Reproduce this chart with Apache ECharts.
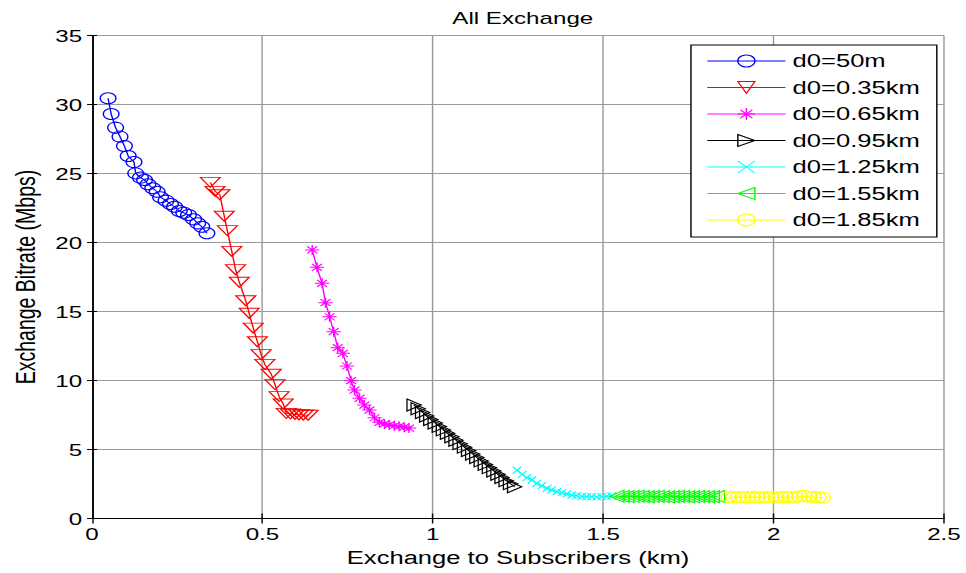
<!DOCTYPE html>
<html>
<head>
<meta charset="utf-8">
<script src="https://cdn.jsdelivr.net/npm/echarts@6/dist/echarts.min.js"></script>
<style>
html,body{margin:0;padding:0;background:#fff;overflow:hidden;}
#wrap{width:966px;height:573px;overflow:hidden;position:relative;}
#chart{width:680px;height:573px;transform:scaleX(1.420588);transform-origin:0 0;}
</style>
</head>
<body>
<div id="wrap"><div id="chart"></div></div>
<script>
// ---- data ----
const titleText = 'All Exchange';
const xAxisName = 'Exchange to Subscribers (km)';
const yAxisName = 'Exchange Bitrate (Mbps)';
const xTicks = [0, 0.5, 1, 1.5, 2, 2.5];
const yTicks = [0, 5, 10, 15, 20, 25, 30, 35];
const seriesNames = ['d0=50m', 'd0=0.35km', 'd0=0.65km', 'd0=0.95km', 'd0=1.25km', 'd0=1.55km', 'd0=1.85km'];

const blueX = [0.047, 0.056, 0.069, 0.082, 0.095, 0.106, 0.123, 0.128, 0.142, 0.154, 0.164, 0.178, 0.191, 0.201, 0.217, 0.230, 0.242, 0.256, 0.269, 0.283, 0.298, 0.310, 0.322, 0.337];
const blueY = [30.45, 29.31, 28.32, 27.67, 26.99, 26.27, 25.83, 25.01, 24.70, 24.53, 24.22, 23.93, 23.68, 23.28, 23.03, 22.79, 22.59, 22.28, 22.16, 21.99, 21.68, 21.39, 21.14, 20.67];

const redX = [0.347, 0.361, 0.375, 0.388, 0.397, 0.410, 0.421, 0.432, 0.451, 0.461, 0.473, 0.485, 0.496, 0.507, 0.526, 0.537, 0.549, 0.561, 0.570, 0.582, 0.595, 0.607, 0.620, 0.634];
const redY = [24.36, 23.71, 23.46, 21.90, 20.86, 19.36, 18.03, 17.12, 15.78, 14.87, 13.80, 12.81, 11.87, 11.17, 10.45, 9.70, 8.83, 8.30, 7.62, 7.58, 7.55, 7.52, 7.50, 7.48];

const magentaX = [0.646, 0.660, 0.675, 0.685, 0.697, 0.709, 0.721, 0.736, 0.748, 0.760, 0.770, 0.785, 0.799, 0.814, 0.829, 0.843, 0.858, 0.872, 0.887, 0.901, 0.916, 0.930];
const magentaY = [19.46, 18.20, 17.04, 15.64, 14.62, 13.54, 12.38, 11.97, 11.05, 9.99, 9.31, 8.71, 8.22, 7.86, 7.30, 6.97, 6.85, 6.78, 6.72, 6.68, 6.62, 6.55];

const blackX = [0.945, 0.957, 0.970, 0.982, 0.994, 1.007, 1.019, 1.031, 1.043, 1.056, 1.068, 1.080, 1.093, 1.105, 1.117, 1.129, 1.142, 1.154, 1.166, 1.179, 1.191, 1.203, 1.215, 1.228, 1.240];
const blackY = [8.22, 7.95, 7.68, 7.42, 7.17, 6.92, 6.67, 6.42, 6.17, 5.92, 5.67, 5.42, 5.17, 4.92, 4.67, 4.42, 4.17, 3.92, 3.68, 3.44, 3.20, 2.97, 2.74, 2.52, 2.30];

const cyanX = [1.247, 1.262, 1.276, 1.291, 1.305, 1.320, 1.335, 1.349, 1.364, 1.379, 1.393, 1.408, 1.422, 1.437, 1.452, 1.466, 1.481, 1.495, 1.510, 1.525];
const cyanY = [3.51, 3.20, 2.96, 2.79, 2.55, 2.38, 2.19, 2.07, 1.94, 1.87, 1.78, 1.70, 1.65, 1.61, 1.58, 1.58, 1.56, 1.58, 1.61, 1.63];

const greenX = [1.540, 1.555, 1.569, 1.584, 1.599, 1.614, 1.629, 1.643, 1.658, 1.673, 1.688, 1.702, 1.717, 1.732, 1.747, 1.761, 1.776, 1.791, 1.806, 1.820, 1.835];
const greenY = [1.62, 1.60, 1.58, 1.60, 1.62, 1.59, 1.57, 1.60, 1.61, 1.58, 1.56, 1.59, 1.61, 1.60, 1.57, 1.58, 1.60, 1.59, 1.57, 1.58, 1.60];

const yellowX = [1.869, 1.883, 1.897, 1.910, 1.924, 1.938, 1.952, 1.966, 1.979, 1.993, 2.007, 2.021, 2.035, 2.048, 2.062, 2.076, 2.090, 2.104, 2.117, 2.131, 2.144];
const yellowY = [1.55, 1.54, 1.56, 1.53, 1.55, 1.57, 1.54, 1.52, 1.55, 1.56, 1.53, 1.54, 1.57, 1.55, 1.53, 1.60, 1.62, 1.58, 1.55, 1.53, 1.52];

// ---- styling ----
const FONT = '"Liberation Sans", Arial, Helvetica, sans-serif';
const colors = ['#0000ff', '#ff0000', '#ff00ff', '#000000', '#00ffff', '#00ff00', '#ffff00'];
const symbols = [
  'circle',
  'path://M0,0L10,0L5,9Z',
  'path://M5,0L5,10M0,5L10,5M1.5,1.5L8.5,8.5M1.5,8.5L8.5,1.5',
  'path://M0,0L9,5L0,10Z',
  'path://M0,0L10,10M0,10L10,0',
  'path://M9,0L0,5L9,10Z',
  'circle'
];
const sizes = [[11, 11], [14, 10], [10, 10], [10, 12], [6, 7], [10, 12], [11, 11]];
const xs = [blueX, redX, magentaX, blackX, cyanX, greenX, yellowX];
const ys = [blueY, redY, magentaY, blackY, cyanY, greenY, yellowY];

const series = seriesNames.map((name, k) => ({
  name: name,
  type: 'line',
  data: xs[k].map((x, i) => [x, ys[k][i]]),
  symbol: symbols[k],
  symbolSize: sizes[k],
  showAllSymbol: true,
  lineStyle: { color: colors[k], width: 1 },
  itemStyle: { color: 'rgba(0,0,0,0)', borderColor: colors[k], borderWidth: 1 },
  emphasis: { disabled: true },
  animation: false,
  xAxisIndex: 0,
  yAxisIndex: 0
}));

const chart = echarts.init(document.getElementById('chart'), null, { renderer: 'svg', width: 680, height: 573 });
const axisCommon = {
  type: 'value',
  axisLine: { show: true, lineStyle: { color: '#000', width: 1 } },
  axisTick: { show: true, inside: true, length: 5, lineStyle: { color: '#000' } },
  axisLabel: { color: '#000', fontFamily: FONT, fontSize: 17, margin: 7 },
  splitLine: { show: true, lineStyle: { color: '#9a9a9a', width: 1 } }
};
chart.setOption({
  animation: false,
  backgroundColor: '#fff',
  title: {
    text: titleText, left: 363, top: 4, textAlign: 'center',
    textStyle: { fontFamily: FONT, fontSize: 17, fontWeight: 'normal', color: '#000' }
  },
  grid: { left: 62, right: 15.5, top: 35.5, bottom: 54.5, containLabel: false },
  legend: {
    data: seriesNames,
    orient: 'vertical',
    left: 486.4, top: 45,
    padding: [7, 12, 8, 11],
    itemWidth: 55, itemHeight: 15, itemGap: 8.5,
    backgroundColor: '#fff', borderColor: '#000', borderWidth: 1,
    textStyle: { fontFamily: FONT, fontSize: 18, color: '#000' },
    itemStyle: { borderWidth: 1 },
    lineStyle: { width: 1 }
  },
  xAxis: [
    Object.assign({}, axisCommon, {
      min: xTicks[0], max: xTicks[xTicks.length - 1], interval: xTicks[1] - xTicks[0],
      name: xAxisName, nameLocation: 'middle', nameGap: 30,
      nameTextStyle: { fontFamily: FONT, fontSize: 18, color: '#000' }
    }),
    {
      type: 'value', position: 'top',
      min: xTicks[0], max: xTicks[xTicks.length - 1], interval: xTicks[1] - xTicks[0],
      axisLine: { show: true, lineStyle: { color: '#000', width: 1 } },
      axisTick: { show: true, inside: true, length: 5, lineStyle: { color: '#000' } },
      axisLabel: { show: false }, splitLine: { show: false }
    }
  ],
  yAxis: [
    Object.assign({}, axisCommon, {
      min: yTicks[0], max: yTicks[yTicks.length - 1], interval: yTicks[1] - yTicks[0],
      name: yAxisName, nameLocation: 'middle', nameGap: 36,
      nameTextStyle: { fontFamily: FONT, fontSize: 19.5, color: '#000' },
      axisTick: { show: true, inside: true, length: 3.5, lineStyle: { color: '#000' } }
    }),
    {
      type: 'value', position: 'right',
      min: yTicks[0], max: yTicks[yTicks.length - 1], interval: yTicks[1] - yTicks[0],
      axisLine: { show: true, lineStyle: { color: '#000', width: 1 } },
      axisTick: { show: true, inside: true, length: 3.5, lineStyle: { color: '#000' } },
      axisLabel: { show: false }, splitLine: { show: false }
    }
  ],
  series: series
});
</script>
</body>
</html>
